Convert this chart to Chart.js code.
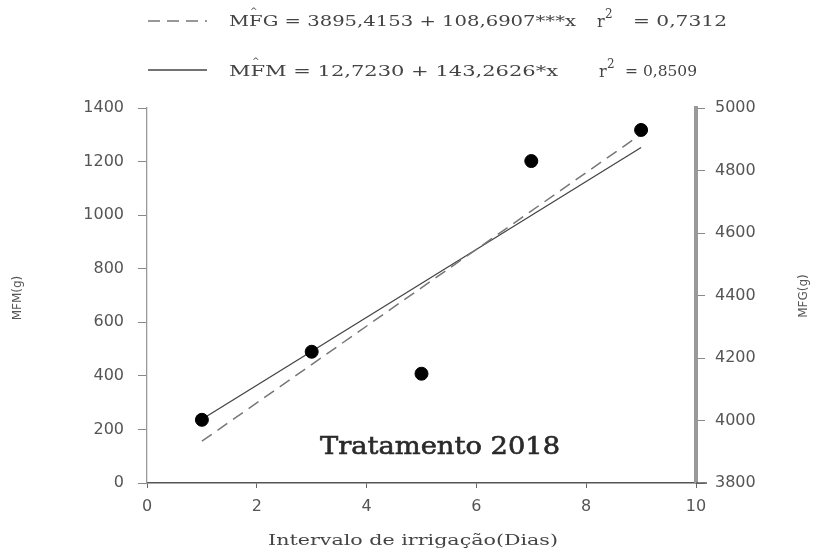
<!DOCTYPE html>
<html>
<head>
<meta charset="utf-8">
<script src="https://cdn.jsdelivr.net/npm/chart.js@4/dist/chart.umd.min.js"></script>
<style>
  html, body { margin: 0; padding: 0; background: #fff; }
  #wrap { width: 820px; height: 552px; }
</style>
</head>
<body>
<div id="wrap"><canvas id="c" width="820" height="552"></canvas></div>
<script>
// Irrigation interval (days) and measured MFM (g)
const intervals = [1, 3, 5, 7, 9];
const mfmValues = [236, 490, 408, 1202, 1318];

// Fitted regressions: [intercept, slope]
const fitMFG = [3895.4153, 108.6907];
const fitMFM = [12.7230, 143.2626];
const fitRange = [1, 9];

// Axis ranges and tick labels
const xTicks = [0, 2, 4, 6, 8, 10];
const leftTicks = [0, 200, 400, 600, 800, 1000, 1200, 1400];
const rightTicks = [3800, 4000, 4200, 4400, 4600, 4800, 5000];

const eqMFG = 'MFG = 3895,4153 + 108,6907***x';
const eqMFM = 'MFM = 12,7230 + 143,2626*x';
const r2MFG = '= 0,7312';
const r2MFM = '= 0,8509';
const panelTitle = 'Tratamento 2018';
const xTitle = 'Intervalo de irrigação(Dias)';
const leftTitle = 'MFM(g)';
const rightTitle = 'MFG(g)';

const fitLine = (c) => fitRange.map(x => ({ x: x, y: c[0] + c[1] * x }));

const tickFont = { family: 'DejaVu Sans', size: 16 };
const plainTick = (v) => String(v);

// Draws text stretched horizontally to span a given width
function fitText(ctx, text, x, y, width) {
  const w = ctx.measureText(text).width;
  ctx.save();
  ctx.translate(x, y);
  ctx.scale(width / w, 1);
  ctx.fillText(text, 0, 0);
  ctx.restore();
}

function drawEquation(ctx, y, eq, x0, x1, rx, r2, vx0, vx1) {
  ctx.font = '14px "DejaVu Serif"';
  ctx.textBaseline = 'middle';
  ctx.textAlign = 'left';
  fitText(ctx, eq, x0, y, x1 - x0);
  // hat over the F of the variable name
  const sx = (x1 - x0) / ctx.measureText(eq).width;
  const wM = ctx.measureText('M').width * sx;
  const wF = ctx.measureText('F').width * sx;
  ctx.font = '9px "DejaVu Serif"';
  ctx.textAlign = 'center';
  ctx.fillText('^', x0 + wM + wF / 2 - 2, y - 10);
  ctx.textAlign = 'left';
  ctx.font = '16px "DejaVu Serif"';
  ctx.fillText('r', rx, y + 1);
  ctx.font = '12px "DejaVu Serif"';
  ctx.fillText('2', rx + 8, y - 7);
  ctx.font = '14px "DejaVu Serif"';
  fitText(ctx, r2, vx0, y, vx1 - vx0);
}

const annotations = {
  id: 'annotations',
  afterDraw(chart) {
    const ctx = chart.ctx;
    const area = chart.chartArea;
    ctx.save();
    ctx.fillStyle = '#444';

    // legend samples
    ctx.strokeStyle = '#777';
    ctx.lineWidth = 1.5;
    ctx.setLineDash([12, 7]);
    ctx.beginPath(); ctx.moveTo(148, 21); ctx.lineTo(207, 21); ctx.stroke();
    ctx.setLineDash([]);
    ctx.strokeStyle = '#444';
    ctx.lineWidth = 1.3;
    ctx.beginPath(); ctx.moveTo(148, 70); ctx.lineTo(207, 70); ctx.stroke();

    drawEquation(ctx, 22, eqMFG, 229, 576, 597, r2MFG, 633, 727);
    drawEquation(ctx, 72, eqMFM, 229, 558, 599, r2MFM, 625, 697);

    // x axis extends past the right axis
    ctx.strokeStyle = '#555';
    ctx.lineWidth = 1.5;
    ctx.beginPath(); ctx.moveTo(area.right, area.bottom); ctx.lineTo(area.right + 11, area.bottom); ctx.stroke();

    // panel title
    ctx.fillStyle = '#2a2a2a';
    ctx.strokeStyle = '#2a2a2a';
    ctx.lineWidth = 0.6;
    ctx.font = '24px "DejaVu Serif"';
    ctx.textBaseline = 'middle';
    fitText(ctx, panelTitle, 320, 448, 240);
    ctx.save();
    ctx.translate(320, 448);
    ctx.scale(240 / ctx.measureText(panelTitle).width, 1);
    ctx.strokeText(panelTitle, 0, 0);
    ctx.restore();

    // x axis title
    ctx.fillStyle = '#444';
    ctx.font = '15px "DejaVu Serif"';
    fitText(ctx, xTitle, 268, 541, 290);

    // y axis titles
    ctx.font = '12px "DejaVu Sans"';
    ctx.fillStyle = '#555';
    ctx.textAlign = 'center';
    ctx.save();
    ctx.translate(18, 298);
    ctx.rotate(-Math.PI / 2);
    ctx.fillText(leftTitle, 0, 0);
    ctx.restore();
    ctx.save();
    ctx.translate(804, 296);
    ctx.rotate(-Math.PI / 2);
    ctx.fillText(rightTitle, 0, 0);
    ctx.restore();

    ctx.restore();
  }
};

new Chart(document.getElementById('c'), {
  type: 'scatter',
  data: {
    datasets: [
      {
        label: 'MFM',
        data: intervals.map((x, i) => ({ x: x, y: mfmValues[i] })),
        yAxisID: 'y',
        pointStyle: 'circle',
        pointRadius: 6.5,
        pointBackgroundColor: '#000',
        pointBorderColor: '#000',
        showLine: false,
        order: 0
      },
      {
        label: 'fit MFM',
        data: fitLine(fitMFM),
        yAxisID: 'y',
        showLine: true,
        borderColor: '#777',
        borderWidth: 1.5,
        borderDash: [12, 7],
        pointRadius: 0,
        order: 1
      },
      {
        label: 'fit MFG',
        data: fitLine(fitMFG),
        yAxisID: 'y1',
        showLine: true,
        borderColor: '#444',
        borderWidth: 1.3,
        pointRadius: 0,
        order: 1
      }
    ]
  },
  options: {
    responsive: false,
    animation: false,
    layout: { padding: { top: 108, left: 0, right: 0, bottom: 0 } },
    plugins: { legend: { display: false }, tooltip: { enabled: false } },
    scales: {
      x: {
        type: 'linear',
        min: xTicks[0],
        max: xTicks[xTicks.length - 1],
        afterBuildTicks: (s) => { s.ticks = xTicks.map(v => ({ value: v })); },
        ticks: { font: tickFont, color: '#555', padding: 9, maxRotation: 0, callback: plainTick },
        grid: { drawOnChartArea: false, drawTicks: true, tickLength: 5, color: '#666' },
        border: { color: '#555', width: 1.5 },
        afterFit: (s) => { s.height = 69; }
      },
      y: {
        position: 'left',
        min: leftTicks[0],
        max: leftTicks[leftTicks.length - 1],
        afterBuildTicks: (s) => { s.ticks = leftTicks.map(v => ({ value: v })); },
        ticks: { font: tickFont, color: '#555', padding: 14, callback: plainTick },
        grid: { drawOnChartArea: false, drawTicks: true, tickLength: 9, color: '#888' },
        border: { color: '#999', width: 1.3 },
        afterFit: (s) => { s.width = 147; }
      },
      y1: {
        position: 'right',
        min: rightTicks[0],
        max: rightTicks[rightTicks.length - 1],
        afterBuildTicks: (s) => { s.ticks = rightTicks.map(v => ({ value: v })); },
        ticks: { font: tickFont, color: '#555', padding: 10, callback: plainTick },
        grid: { drawOnChartArea: false, drawTicks: true, tickLength: 9, color: '#888' },
        border: { color: '#999', width: 4 },
        afterFit: (s) => { s.width = 124; }
      }
    }
  },
  plugins: [annotations]
});
</script>
</body>
</html>
